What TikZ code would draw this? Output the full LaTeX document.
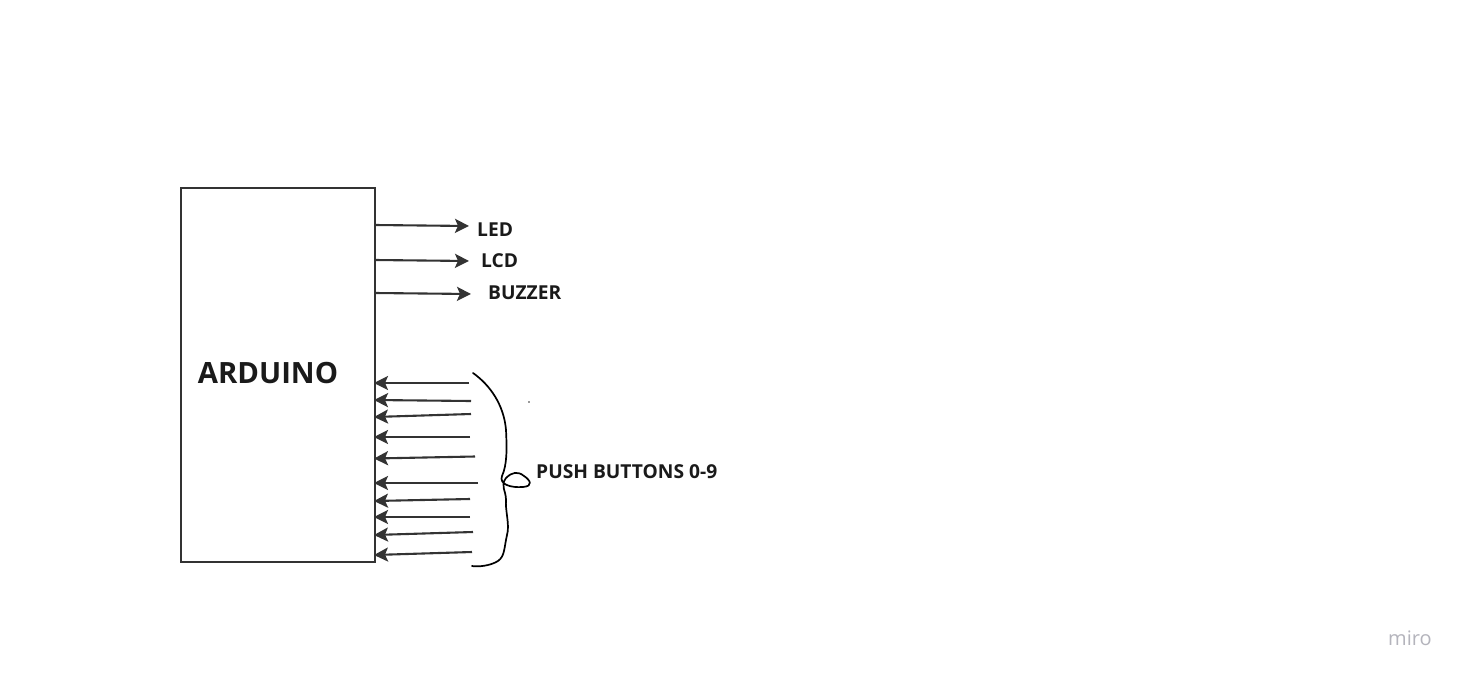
\documentclass[tikz,border=0pt]{standalone}
\usepackage{fontspec}
\setmainfont{Open Sans}
\usetikzlibrary{arrows.meta}
\definecolor{ink}{HTML}{333333}
\definecolor{txt}{HTML}{1A1A1A}
\definecolor{mirogray}{HTML}{B4B4BC}
\tikzset{
  wire/.style={draw=ink, line width=2.1pt, -{Stealth[length=14pt,width=14pt,inset=3pt]}},
  lbl/.style={inner sep=0pt, text=txt, font=\bfseries\fontsize{19.2}{21}\selectfont, anchor=west},
}
\begin{document}
\begin{tikzpicture}[x=1pt,y=-1pt]
\useasboundingbox[fill=white] (0,0) rectangle (1469,680);
% Arduino box
\node[draw=ink, line width=2.2pt, anchor=north west, inner sep=0pt,
      minimum width=194pt, minimum height=374pt] (ard) at (180,187) {};
\node[inner sep=0pt, text=txt, font=\bfseries\fontsize{29.3}{32}\selectfont] (ardlabel) at (268,373) {ARDUINO};
% outputs
\node[lbl] (led) at (477,229.5) {LED};
\node[lbl] (lcd) at (481,261) {LCD};
\node[lbl] (buz) at (488,293) {BUZZER};
\coordinate (o1) at (375,225);
\coordinate (o2) at (375,260);
\coordinate (o3) at (375,293);
\coordinate (t1) at (469,226);
\coordinate (t2) at (469,261);
\coordinate (t3) at (471,294);
\draw[wire] (o1) -- (t1);
\draw[wire] (o2) -- (t2);
\draw[wire] (o3) -- (t3);
% inputs
\coordinate (i1) at (469,383);
\coordinate (i2) at (471,401);
\coordinate (i3) at (471,414);
\coordinate (i4) at (470,437);
\coordinate (i5) at (475,456.5);
\coordinate (i6) at (478,483);
\coordinate (i7) at (470,499);
\coordinate (i8) at (470,517);
\coordinate (i9) at (473,532);
\coordinate (i10) at (472,552);
\coordinate (e1) at (374,383);
\coordinate (e2) at (374,400);
\coordinate (e3) at (374,417);
\coordinate (e4) at (374,437);
\coordinate (e5) at (374,458.5);
\coordinate (e6) at (374,483);
\coordinate (e7) at (374,501);
\coordinate (e8) at (374,517);
\coordinate (e9) at (374,535);
\coordinate (e10) at (374,555);
\foreach \k in {1,...,10} {\draw[wire] (i\k) -- (e\k);}
% hand-drawn brace
\draw[black, line width=1.7pt, line cap=round, line join=round]
  (473,373) .. controls (490,385) and (504,405) .. (506,430)
  .. controls (507,450) and (507,465) .. (502,476)
  .. controls (499,484) and (510,488) .. (523,487)
  .. controls (534,486) and (530,480) .. (524,476)
  .. controls (518,471) and (512,472) .. (506,478)
  .. controls (500,486) and (506,490) .. (506,500)
  .. controls (505,510) and (510,525) .. (507,535)
  .. controls (504,548) and (505,556) .. (498,561)
  .. controls (490,566) and (478,567) .. (472,566);
\node[lbl] (push) at (536,472) {PUSH BUTTONS 0-9};
\fill[ink] (529,402) circle (0.9pt);
\node[inner sep=0pt, anchor=base west, text=mirogray, font=\fontsize{20}{22}\selectfont] (miro) at (1388,645) {miro};
\end{tikzpicture}
\end{document}
